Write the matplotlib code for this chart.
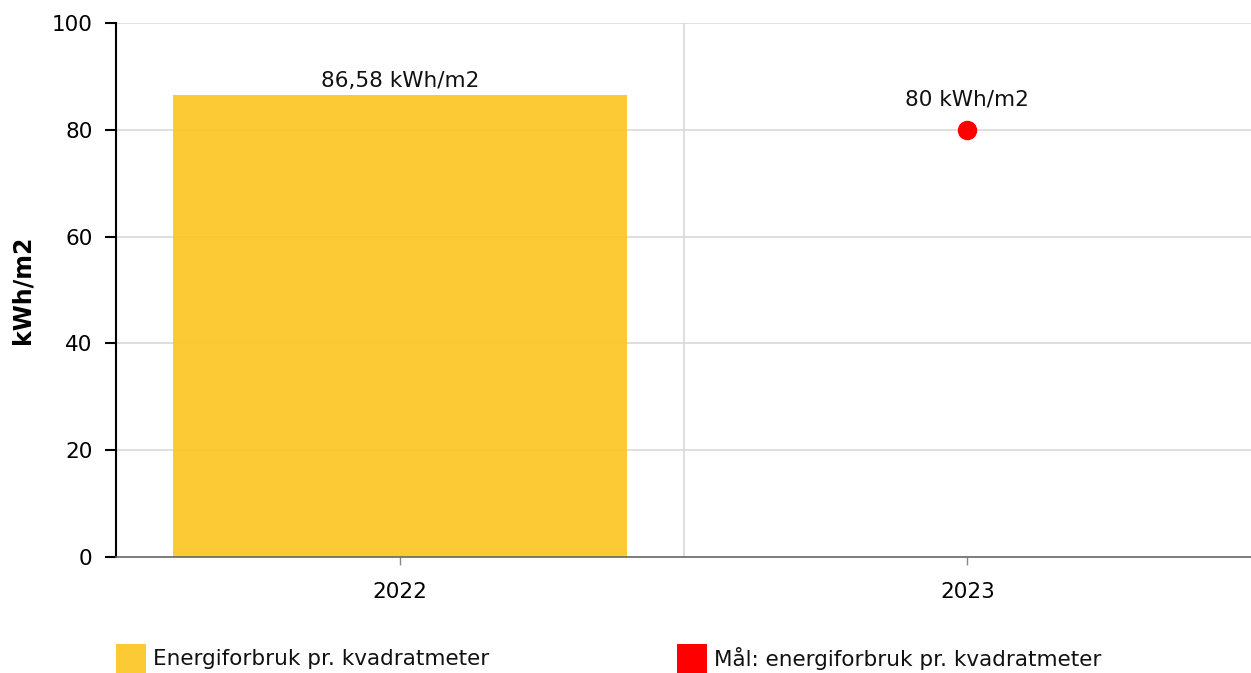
import matplotlib
matplotlib.use("Agg")
import matplotlib.pyplot as plt
from matplotlib.patches import Rectangle

years = ["2022", "2023"]
consumption = [86.58, None]
target = [None, 80]
bar_labels = ["86,58 kWh/m2", ""]
target_labels = ["", "80 kWh/m2"]
legend_labels = ["Energiforbruk pr. kvadratmeter", "Mål: energiforbruk pr. kvadratmeter"]

plt.rcParams["font.family"] = ["DejaVu Sans"]
fig = plt.figure(figsize=(12.51, 6.73), dpi=100)
ax = fig.add_axes([116 / 1251, 116 / 673, 1135 / 1251, 534 / 673])

xs = list(range(len(years)))
bar_x = [x for x, v in zip(xs, consumption) if v is not None]
bar_v = [v for v in consumption if v is not None]
ax.bar(bar_x, bar_v, width=0.8, color="#FCC51F", alpha=0.9, zorder=2)
for x, v, lab in zip(xs, consumption, bar_labels):
    if v is not None:
        ax.annotate(lab, (x, v), xytext=(0, 2.5), textcoords="offset points",
                    ha="center", va="bottom", fontsize=15.5, color="#111111", zorder=5)

pt_x = [x for x, v in zip(xs, target) if v is not None]
pt_v = [v for v in target if v is not None]
ax.plot(pt_x, pt_v, "o", color="#ff0000", markersize=13, zorder=4, linestyle="none")
for x, v, lab in zip(xs, target, target_labels):
    if v is not None:
        ax.annotate(lab, (x, v), xytext=(0, 14.5), textcoords="offset points",
                    ha="center", va="bottom", fontsize=15.5, color="#111111", zorder=5)

ax.set_xlim(-0.5, len(years) - 0.5)
ax.set_ylim(0, 100)
ax.set_yticks(range(0, 101, 20))
ax.set_xticks(xs)
ax.set_xticklabels(years)
ax.set_xticks([0.5], minor=True)

for y in range(20, 101, 20):
    ax.axhline(y, color="#d9d9d9", linewidth=1.2, zorder=1)
ax.grid(which="minor", axis="x", color="#d9d9d9", linewidth=1.2, zorder=1)
ax.tick_params(axis="x", which="minor", length=0)

for s in ["top", "right"]:
    ax.spines[s].set_visible(False)
ax.spines["left"].set_color("#000000")
ax.spines["left"].set_linewidth(1.5)
ax.spines["bottom"].set_color("#666666")
ax.spines["bottom"].set_linewidth(1.2)
ax.tick_params(axis="y", length=8, width=1.5, color="#000000", labelsize=15.5, pad=9)
ax.tick_params(axis="x", which="major", length=6, width=1, color="#888888",
               labelsize=15.5, pad=12)
ax.set_ylabel("kWh/m2", fontsize=17, fontweight="bold")
ax.yaxis.label.set_va("center")
ax.yaxis.set_label_coords(-94 / 1135, 0.5)

# legend
legend_colors = ["#FCC51F", "#ff0000"]
legend_x = [116, 677]
for lx, c, lab, a in zip(legend_x, legend_colors, legend_labels, [0.9, 1.0]):
    fig.add_artist(Rectangle((lx / 1251, 0), 30 / 1251, 29 / 673, transform=fig.transFigure,
                             facecolor=c, alpha=a, edgecolor="none"))
    fig.text((lx + 37) / 1251, 14 / 673, lab, fontsize=15.5, va="center", ha="left", color="#111111")

fig.savefig("out.png", dpi=100)
